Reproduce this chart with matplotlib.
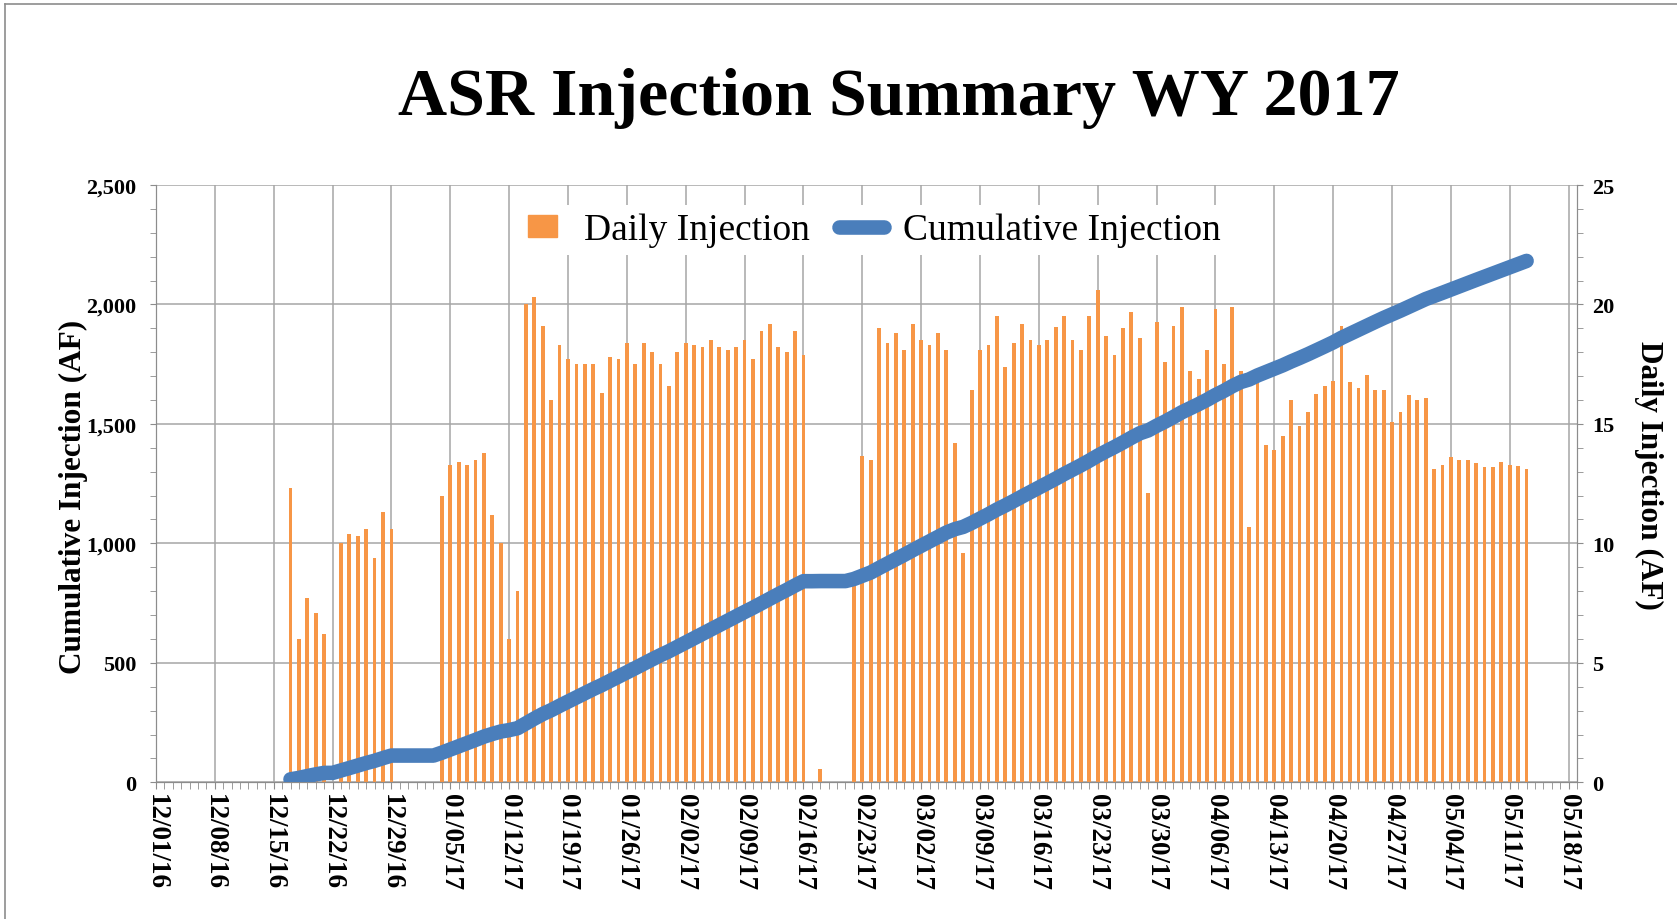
import matplotlib
matplotlib.use("Agg")
import matplotlib.pyplot as plt
import matplotlib.dates as mdates
import matplotlib.patches as mpatches
from matplotlib.lines import Line2D
from matplotlib.legend_handler import HandlerPatch
from matplotlib.ticker import MultipleLocator, FuncFormatter
import numpy as np
import pandas as pd

plt.rcParams["font.family"] = ["Liberation Serif", "DejaVu Serif"]
plt.rcParams["font.weight"] = "bold"

# daily injection (AF), one value per day starting 12/17/2016
START = "2016-12-17"
DEC = [12.3, 6.0, 7.7, 7.1, 6.2, 0, 10.0, 10.4, 10.3, 10.6, 9.4, 11.3, 10.6, 0, 0]
JAN = [0, 0, 0, 12.0, 13.3, 13.4, 13.3, 13.5, 13.8, 11.2, 10.0, 6.0, 8.0, 20.0, 20.3,
       19.1, 16.0, 18.3, 17.7, 17.5, 17.5, 17.5, 16.3, 17.8, 17.7, 18.4, 17.5, 18.4,
       18.0, 17.5, 16.6]
FEB = [18.0, 18.4, 18.3, 18.2, 18.5, 18.2, 18.1, 18.2, 18.5, 17.7, 18.9, 19.2, 18.2,
       18.0, 18.9, 17.9, 0, 0.55, 0, 0, 0, 8.7, 13.65, 13.5, 19.0, 18.4, 18.8, 18.1]
MAR = [19.2, 18.5, 18.3, 18.8, 18.1, 14.2, 9.6, 16.4, 18.1, 18.3, 19.5, 17.4, 18.4,
       19.2, 18.5, 18.3, 18.5, 19.05, 19.5, 18.5, 18.1, 19.5, 20.6, 18.7, 17.9, 19.0,
       19.7, 18.6, 12.1, 19.25, 17.6]
APR = [19.1, 19.9, 17.2, 16.9, 18.1, 19.8, 17.5, 19.9, 17.2, 10.7, 16.8, 14.1, 13.9,
       14.5, 16.0, 14.9, 15.5, 16.25, 16.6, 16.8, 19.1, 16.75, 16.5, 17.05, 16.4, 16.4,
       15.1, 15.5, 16.2, 16.0]
MAY = [16.1, 13.1, 13.3, 13.6, 13.5, 13.5, 13.35, 13.2, 13.2, 13.4, 13.3, 13.25, 13.1]

daily = np.array(DEC + JAN + FEB + MAR + APR + MAY)
dates = pd.date_range(START, periods=len(daily), freq="D")
cumulative = np.cumsum(daily)

ORANGE = "#F79646"
BLUE = "#4A7EBB"
GRID = "#a6a6a6"
AXCOL = "#8c8c8c"

fig = plt.figure(figsize=(16.77, 9.2), dpi=100)
ax = fig.add_axes([0.0930, 0.1486, 0.8474, 0.6492])
ax2 = ax.twinx()
ax.set_zorder(ax2.get_zorder() + 1)
ax.patch.set_visible(False)

# bars on the right axis, behind the line
mask = daily > 0
ax2.bar(dates[mask], daily[mask], width=0.45, color=ORANGE, zorder=3)
ax2.set_ylim(0, 25)
ax2.yaxis.set_major_locator(MultipleLocator(5))
ax2.yaxis.set_minor_locator(MultipleLocator(1))
ax2.xaxis.set_visible(True)
ax2.tick_params(axis="x", which="both", bottom=False, top=False,
                labelbottom=False, labeltop=False)
ax2.set_axisbelow(True)
ax2.grid(which="major", axis="both", color=GRID, lw=1.1)

# cumulative line on the left axis
ax.plot(dates, cumulative, color=BLUE, lw=10.5, solid_capstyle="round", zorder=5)
ax.set_ylim(0, 2500)
ax.yaxis.set_major_locator(MultipleLocator(500))
ax.yaxis.set_minor_locator(MultipleLocator(100))
ax.yaxis.set_major_formatter(FuncFormatter(lambda v, p: f"{v:,.0f}"))

ax.set_xlim(pd.Timestamp("2016-12-01"), pd.Timestamp("2017-05-19"))
ax.xaxis.set_major_locator(mdates.WeekdayLocator(byweekday=mdates.TH))
ax.xaxis.set_minor_locator(mdates.DayLocator())
ax.xaxis.set_major_formatter(mdates.DateFormatter("%m/%d/%y"))

for a in (ax, ax2):
    for s in a.spines.values():
        s.set_color(AXCOL)
    a.spines["top"].set_visible(False)
ax.tick_params(axis="x", which="both", direction="out", length=5, color=AXCOL,
               labelsize=19.5, labelrotation=-90, pad=3)
ax.tick_params(axis="y", which="both", direction="out", length=4, color=AXCOL,
               labelsize=16, pad=10)
ax2.tick_params(axis="y", which="both", direction="out", length=4, color=AXCOL,
                labelsize=16, pad=7)

ax.set_ylabel("Cumulative Injection (AF)", fontsize=22.5, fontweight="bold", va="center")
ax.yaxis.set_label_coords(-0.0584, 0.479)
ax2.set_ylabel("Daily Injection (AF)", fontsize=22.5, fontweight="bold",
               rotation=270, va="center")
ax2.yaxis.set_label_coords(1.05, 0.516)

fig.text(0.536, 0.893, "ASR Injection Summary WY 2017", ha="center", va="center",
         fontsize=49, fontweight="bold")


def small_box(legend, orig_handle, xdescent, ydescent, width, height, fontsize):
    return mpatches.Rectangle((-xdescent + 0.18 * width, -ydescent), 0.64 * width, height)


handles = [mpatches.Patch(color=ORANGE, label="Daily Injection"),
           Line2D([], [], color=BLUE, lw=10.5, solid_capstyle="round",
                  label="Cumulative Injection")]
leg = ax.legend(handles=handles, loc="center", bbox_to_anchor=(0.519, 0.749),
                bbox_transform=fig.transFigure, ncol=2, frameon=True,
                facecolor="white", edgecolor="none", framealpha=1,
                prop={"family": "Liberation Serif", "weight": "normal", "size": 27},
                handlelength=1.2, handleheight=0.5, handletextpad=0.5,
                columnspacing=0.8, borderpad=0.2,
                handler_map={mpatches.Patch: HandlerPatch(patch_func=small_box)})

# outer chart border (top and left edges visible)
fig.add_artist(Line2D([5 / 1677, 5 / 1677], [0, 1 - 5 / 920], transform=fig.transFigure,
                      color="#8c8c8c", lw=1.2))
fig.add_artist(Line2D([5 / 1677, 1], [1 - 5 / 920, 1 - 5 / 920], transform=fig.transFigure,
                      color="#8c8c8c", lw=1.2))

fig.savefig("out.png", dpi=100, facecolor="white")
